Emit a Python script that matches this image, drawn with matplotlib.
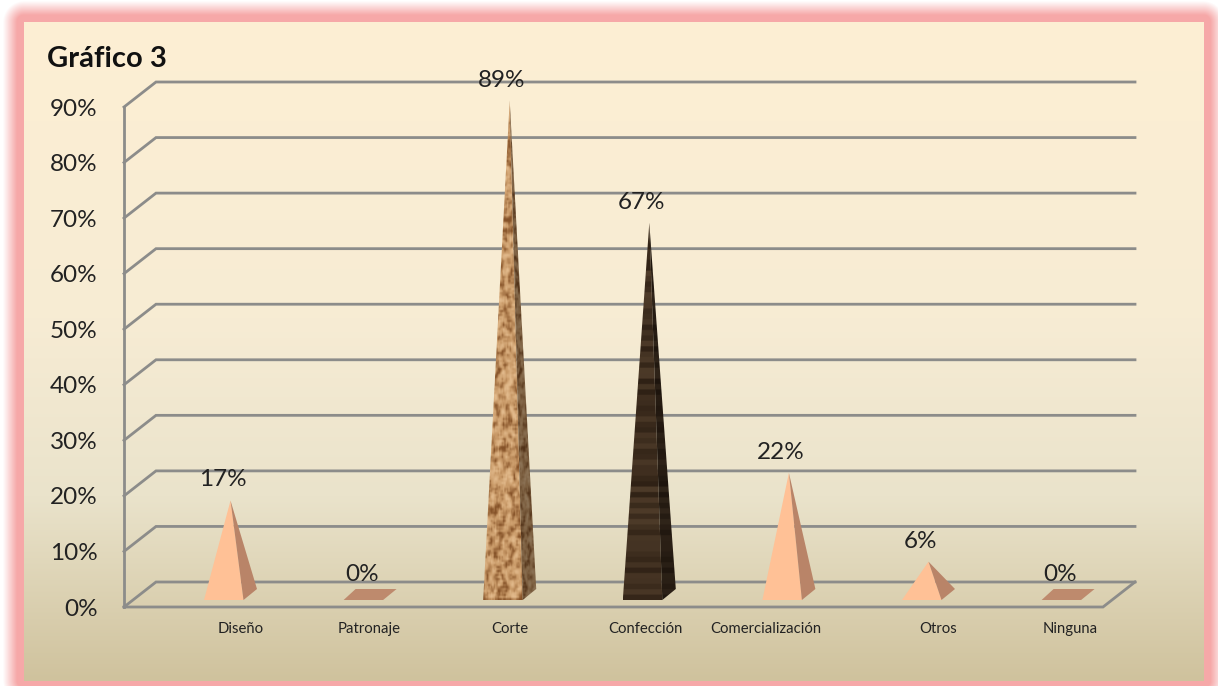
import numpy as np
import matplotlib
matplotlib.use('Agg')
import matplotlib.pyplot as plt
from matplotlib.patches import Polygon
from matplotlib.colors import to_rgb

categories = ['Diseño', 'Patronaje', 'Corte', 'Confección', 'Comercialización', 'Otros', 'Ninguna']
values = [17, 0, 89, 67, 22, 6, 0]
y_ticks = [0, 10, 20, 30, 40, 50, 60, 70, 80, 90]
title = 'Gráfico 3'

# chart box in pixels
W, H = 1218, 686
AX_L, AX_R, AX_BOT, AX_TOP = 124, 1103, 607, 107
DEPTH_X, DEPTH_Y = 32, 25
CAT0_PX, CAT_STEP = 230.5, 139.6
PX_PER_PCT = (AX_BOT - AX_TOP) / 90.0

plt.rcParams['font.family'] = ['Lato', 'DejaVu Sans']

fig = plt.figure(figsize=(W / 100, H / 100), dpi=100)


def gradient_background():
    # cream panel fading down, pink frame with a soft outer edge
    l, r, t, b = 23.5, 1203, 21.5, 680
    yy, xx = np.mgrid[0:H, 0:W]
    stops = [0.0, 0.45, 0.72, 1.0]
    cols = np.array([to_rgb(c) for c in ['#FDEFD3', '#F7ECD4', '#EAE3CB', '#CFC29D']])
    frac = np.clip((yy - t) / (b - t), 0, 1)
    img = np.dstack([np.interp(frac, stops, cols[:, i]) for i in range(3)])
    inside = (xx >= l) & (xx <= r) & (yy >= t) & (yy <= b)
    dx = np.maximum(np.maximum(l - xx, xx - r), 0)
    dy = np.maximum(np.maximum(t - yy, yy - b), 0)
    dist = np.hypot(dx, dy)
    alpha = np.clip((21 - dist) / 14.0, 0, 1)[..., None]
    pink = np.array(to_rgb('#F6A8A8'))
    frame = pink * alpha + (1 - alpha)
    img = np.where(inside[..., None], img, frame)
    return img


bg = fig.add_axes([0, 0, 1, 1], zorder=0)
bg.imshow(gradient_background(), aspect='auto', interpolation='bilinear')
bg.axis('off')

ax = fig.add_axes([AX_L / W, 1 - AX_BOT / H, (AX_R - AX_L) / W, (AX_BOT - AX_TOP) / H], zorder=1)
ax.patch.set_alpha(0)
ax.set_xlim((AX_L - CAT0_PX) / CAT_STEP, (AX_R - CAT0_PX) / CAT_STEP)
ax.set_ylim(0, 90)
for s in ax.spines.values():
    s.set_visible(False)

xd = 1.0 / CAT_STEP      # one pixel in category units
yd = 1.0 / PX_PER_PCT    # one pixel in percent units
x0, x1 = ax.get_xlim()
depth_x = DEPTH_X * xd
depth_y = DEPTH_Y * yd
GRID = '#8C8C8A'
LW = 2.0

# back wall gridlines, side wall ticks, floor and left edge
for v in y_ticks:
    ax.plot([x0, x0 + depth_x, x1 + depth_x], [v, v + depth_y, v + depth_y],
            color=GRID, lw=LW, clip_on=False, zorder=1, solid_joinstyle='miter')
ax.plot([x0, x0], [0, 90], color=GRID, lw=LW, clip_on=False, zorder=1)
ax.plot([x0, x1, x1 + depth_x], [0, 0, depth_y], color=GRID, lw=LW, clip_on=False, zorder=1,
        solid_joinstyle='miter')

ax.set_yticks(y_ticks)
ax.set_yticklabels(['%d%%' % v for v in y_ticks], fontsize=17.5, color='#222222')
ax.tick_params(axis='y', length=0, pad=19)
ax.set_xticks([])


def cork_texture(seed):
    rng = np.random.default_rng(seed)
    noise = rng.random((250, 30))
    k = np.ones(3) / 3
    smooth = np.apply_along_axis(lambda m: np.convolve(m, k, 'same'), 0, noise)
    smooth = np.apply_along_axis(lambda m: np.convolve(m, k, 'same'), 1, smooth)
    shade = np.clip((smooth - 0.5) * 5.0, -1, 1)[..., None]
    base = np.array(to_rgb('#C99A68'))
    light = np.array(to_rgb('#E2BA8C'))
    dark = np.array(to_rgb('#855228'))
    return np.where(shade > 0, base + (light - base) * shade, base + (base - dark) * shade)


def wood_texture(seed):
    rng = np.random.default_rng(seed)
    rows = rng.random(70) * 0.8
    rows = np.repeat(rows, 4)[:, None]
    base = np.array(to_rgb('#2F2115'))
    light = np.array(to_rgb('#57432F'))
    img = base + (light - base) * rows[..., None]
    return np.repeat(img, 30, axis=1)


textures = {'Corte': cork_texture(3), 'Confección': wood_texture(5)}

FACE = '#FFC196'
SIDE = '#B98468'
FLAT = '#BE8A6D'
FRONT_L, FRONT_R, BACK_R = -26.5 * xd, 13 * xd, 26.5 * xd
FRONT_Y, MID_Y, BACK_Y = (AX_BOT - 600) * yd, (AX_BOT - 595) * yd, (AX_BOT - 589) * yd

for i, (name, v) in enumerate(zip(categories, values)):
    apex = (i, MID_Y + v)
    fl = (i + FRONT_L, FRONT_Y)
    fr = (i + FRONT_R, FRONT_Y)
    br = (i + BACK_R, BACK_Y)
    if v == 0:
        # empty category collapses to a flat base
        bl = (i + FRONT_L + 12 * xd, BACK_Y)
        ax.add_patch(Polygon([fl, fr, br, bl], closed=True, fc=FLAT, ec='none', zorder=3))
    elif name in textures:
        tex = textures[name]
        front = Polygon([fl, fr, apex], closed=True, fc='none', ec='none', zorder=3, clip_on=False)
        side = Polygon([fr, br, apex], closed=True, fc='none', ec='none', zorder=3, clip_on=False)
        ax.add_patch(front)
        ax.add_patch(side)
        # textures stretch over the full face and are cut to the triangle
        im = ax.imshow(tex, extent=[fl[0], fr[0], FRONT_Y, apex[1]], aspect='auto', zorder=3,
                       interpolation='bilinear')
        im.set_clip_box(fig.bbox)
        im.set_clip_path(front)
        im2 = ax.imshow(tex * 0.62, extent=[apex[0], br[0], FRONT_Y, apex[1]], aspect='auto', zorder=3,
                        interpolation='bilinear')
        im2.set_clip_box(fig.bbox)
        im2.set_clip_path(side)
    else:
        ax.add_patch(Polygon([fl, fr, apex], closed=True, fc=FACE, ec='none', zorder=3))
        ax.add_patch(Polygon([fr, br, apex], closed=True, fc=SIDE, ec='none', zorder=3))

# imshow resets the limits
ax.set_xlim(x0, x1)
ax.set_ylim(0, 90)

for i, v in enumerate(values):
    ax.annotate('%d%%' % v, (i, MID_Y + v), xytext=(-5.8, 14.8), textcoords='offset points',
                ha='center', va='center', fontsize=17.5, color='#222222', zorder=5,
                annotation_clip=False)

# category names sit off-centre from their bars
label_shift_px = [10, -1, 0, -4, -23, 10, 2]
for i, name in enumerate(categories):
    ax.annotate(name, (i, 0), xytext=(label_shift_px[i] * 0.72, -16), textcoords='offset points',
                ha='center', va='center', fontsize=10.7, color='#222222', zorder=5,
                annotation_clip=False)

fig.text(47 / W, 1 - 59 / H, title, fontsize=21, fontweight='bold', color='#111111',
         ha='left', va='center', zorder=6)

fig.savefig('out.png', dpi=100)
